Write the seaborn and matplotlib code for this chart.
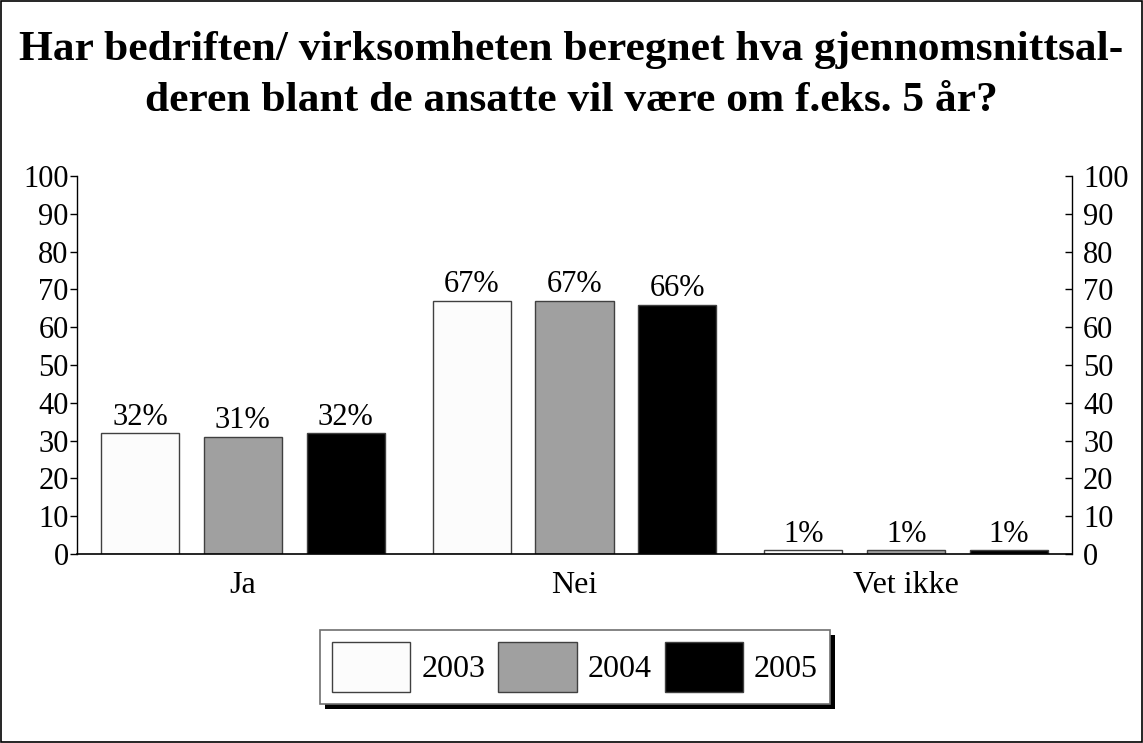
import matplotlib
matplotlib.use("Agg")
import matplotlib.pyplot as plt
import seaborn as sns
import pandas as pd
from matplotlib.patches import Rectangle, Patch

categories = ["Ja", "Nei", "Vet ikke"]
years = ["2003", "2004", "2005"]
values_2003 = [32, 67, 1]
values_2004 = [31, 67, 1]
values_2005 = [32, 66, 1]
colors = ["#fcfcfc", "#a0a0a0", "#000000"]
title = "Har bedriften/ virksomheten beregnet hva gjennomsnittsal-\nderen blant de ansatte vil være om f.eks. 5 år?"
yticks = list(range(0, 101, 10))

rows = []
for y, vals in zip(years, [values_2003, values_2004, values_2005]):
    for c, v in zip(categories, vals):
        rows.append({"cat": c, "year": y, "val": v})
df = pd.DataFrame(rows)

sns.set_style("white")
plt.rcParams["font.family"] = ["Liberation Serif", "DejaVu Serif"]
plt.rcParams["text.color"] = "black"
plt.rcParams["xtick.color"] = "black"
plt.rcParams["ytick.color"] = "black"
plt.rcParams["axes.labelcolor"] = "black"

fig = plt.figure(figsize=(11.43, 7.43), dpi=100)
ax = fig.add_axes([77/1143, 1-554/743, (1072-77)/1143, (554-176)/743])

sns.barplot(data=df, x="cat", y="val", hue="year", palette=colors, ax=ax,
            width=0.93, gap=0.24, edgecolor="#404040", linewidth=1, legend=False,
            saturation=1)

ax.set_xlim(-0.5, 2.5)
ax.set_ylim(0, 100)
ax.set_yticks(yticks)
ax.set_yticklabels([str(t) for t in yticks], fontsize=22)
ax.set_xlabel("")
ax.set_ylabel("")
ax.tick_params(axis="x", length=0, labelsize=23, pad=12)
ax.tick_params(axis="y", direction="out", length=5, width=1, color="black", pad=1)
for s in ["top", "right"]:
    ax.spines[s].set_visible(False)
ax.spines["left"].set_color("black")
ax.spines["bottom"].set_color("black")
ax.spines["left"].set_linewidth(1)
ax.spines["bottom"].set_linewidth(1.2)

ax2 = ax.twinx()
ax2.set_ylim(0, 100)
ax2.set_yticks(yticks)
ax2.set_yticklabels([str(t) for t in yticks], fontsize=22)
ax2.tick_params(axis="y", direction="in", length=5, width=1, color="black", pad=8)
for s in ["top", "left", "bottom"]:
    ax2.spines[s].set_visible(False)
ax2.spines["right"].set_color("black")
ax2.spines["right"].set_linewidth(1)

for cont in ax.containers:
    ax.bar_label(cont, labels=[f"{int(v)}%" for v in cont.datavalues], fontsize=22, padding=1)

fig.suptitle(title, fontsize=31.3, fontweight="bold", y=0.958, linespacing=1.45, color="black")

handles = [Patch(facecolor=c, edgecolor="#404040", linewidth=1) for c in colors]
leg = fig.legend(handles, years, loc="center", bbox_to_anchor=(575/1143, 1-667/743),
                 ncol=3, fontsize=23, frameon=True, fancybox=False, framealpha=1,
                 handlelength=2.45, handleheight=2.0, handletextpad=0.35,
                 columnspacing=0.4, borderpad=0.38, borderaxespad=0)
leg.get_frame().set_edgecolor("#707070")
leg.get_frame().set_facecolor("white")
leg.get_frame().set_linewidth(1.2)
leg.set_zorder(5)

fig.canvas.draw()
bb = leg.get_window_extent()
shadow = Rectangle((bb.x0 + 5, bb.y0 - 5), bb.width, bb.height, transform=None,
                   facecolor="black", edgecolor="none", zorder=4)
fig.patches.append(shadow)

fig.patches.append(Rectangle((0.001, 0.001), 0.998, 0.998, transform=fig.transFigure,
                             facecolor="none", edgecolor="black", linewidth=1.2, zorder=0))

fig.savefig("out.png", dpi=100)
